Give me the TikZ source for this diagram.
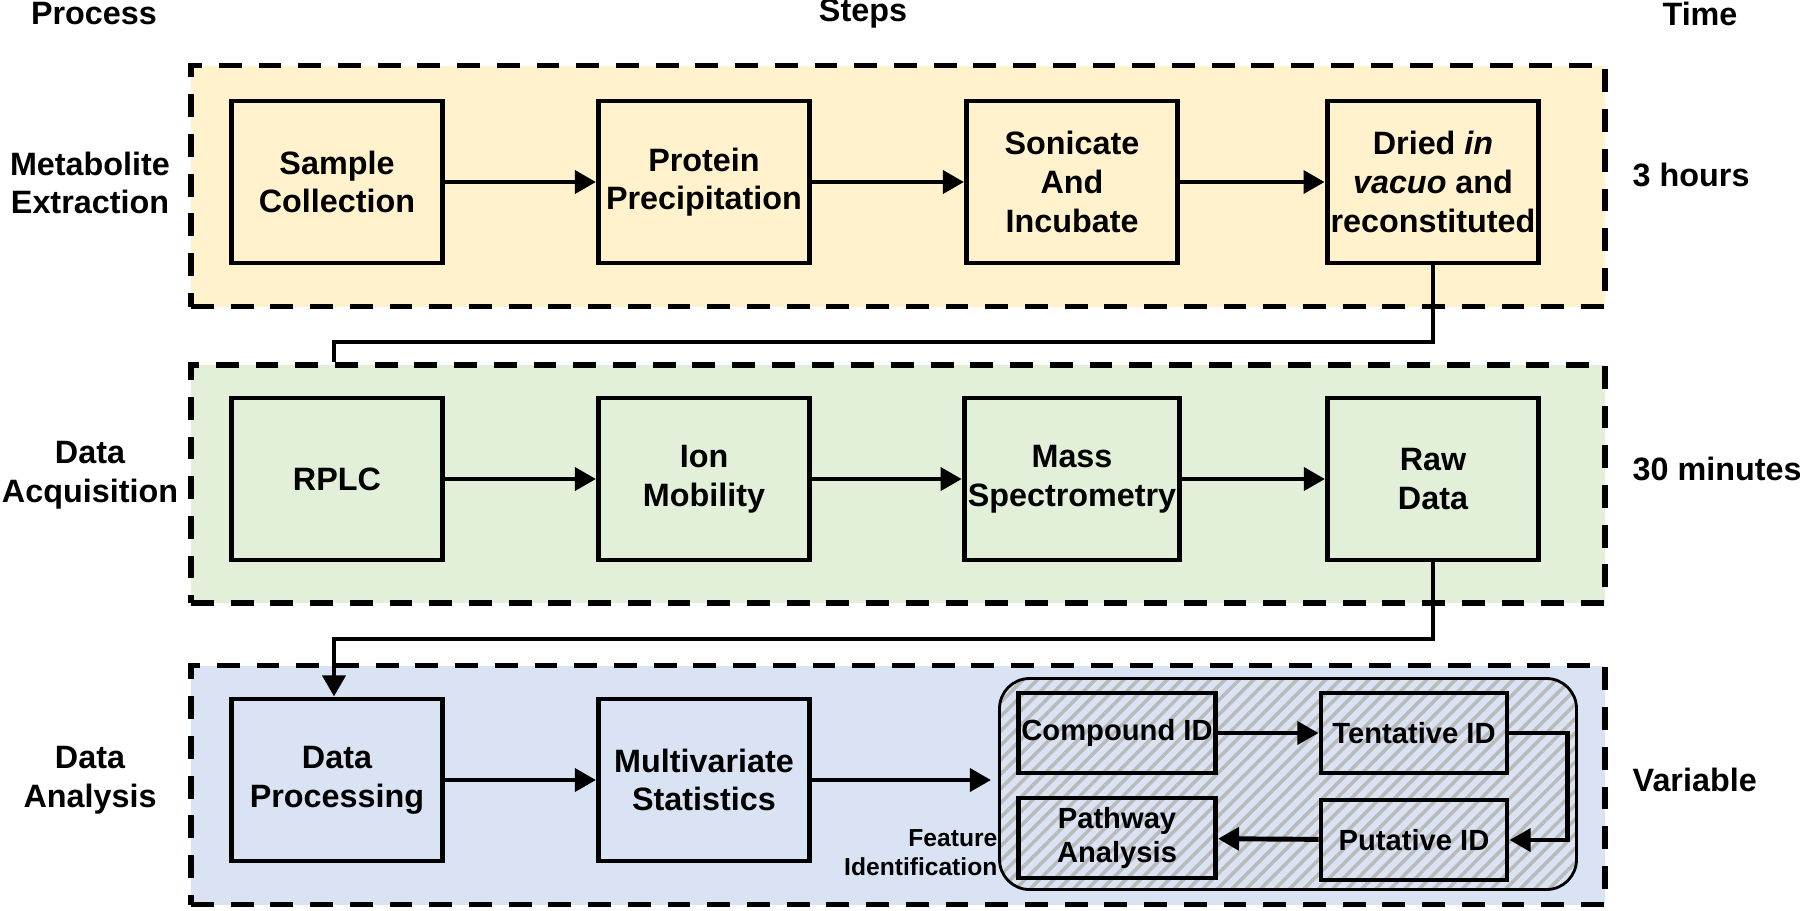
\documentclass[tikz,border=0pt]{standalone}
\usepackage{fontspec}
\setmainfont{Liberation Sans}
\usepackage{tikz}
\usetikzlibrary{arrows.meta}
\usetikzlibrary{patterns.meta}

\definecolor{extractfill}{HTML}{FFF2CC}
\definecolor{acquirefill}{HTML}{E2F0D9}
\definecolor{analysefill}{HTML}{DAE3F3}
\definecolor{hatchgray}{HTML}{BABABA}

\begin{document}
\begin{tikzpicture}[x=0.1mm, y=-0.1mm,
    every node/.style={font=\fontsize{9.2}{11}\selectfont\bfseries},
    band/.style={draw, line width=1.5pt, dash pattern=on 6.5pt off 4.8pt, minimum width=141.4mm, inner sep=0pt},
    stepbox/.style={draw, line width=1.4pt, minimum width=21.1mm, minimum height=16.2mm, align=center, inner sep=1pt},
    idbox/.style={draw, line width=1.4pt, minimum height=8mm, align=center, inner sep=0pt, font=\fontsize{8.3}{9.6}\selectfont\bfseries},
    rowname/.style={align=center, inner sep=0pt},
    timename/.style={anchor=west, inner sep=0pt},
    flow/.style={line width=1.4pt, -{Triangle[length=6pt,width=6.4pt]}},
    link/.style={line width=1.4pt}]
        \useasboundingbox (0,0) rectangle (1800,910);

        % Bands
        \node[band, fill=extractfill, minimum height=24.1mm] (extract) at (898,186) {};
        \node[band, fill=acquirefill, minimum height=23.8mm] (acquire) at (898,484) {};
        \node[band, fill=analysefill, minimum height=23.9mm] (analyse) at (898,785) {};

        % Headings
        \node[inner sep=0pt] (process) at (94,14) {Process};
        \node[inner sep=0pt] (steps) at (863,14) {Steps};
        \node[inner sep=0pt] (time) at (1700,14) {Time};

        \node[rowname] (metlab) at (90,183) {Metabolite\\Extraction};
        \node[rowname] (acqlab) at (90,475) {Data\\Acquisition};
        \node[rowname] (analab) at (90,780) {Data\\Analysis};

        \node[timename] (hours) at (1632,175) {3 hours};
        \node[timename] (minutes) at (1632,469) {30 minutes};
        \node[timename] (variable) at (1632,780) {Variable};

        % Steps
        \node[stepbox, fill=extractfill] (sample) at (337,182) {Sample\\Collection};
        \node[stepbox, fill=extractfill] (protein) at (704,182) {Protein\\Precipitation};
        \node[stepbox, fill=extractfill] (sonicate) at (1072,182) {Sonicate\\And\\Incubate};
        \node[stepbox, fill=extractfill] (dried) at (1433,182) {Dried \textit{in}\\\textit{vacuo} and\\reconstituted};

        \node[stepbox, fill=acquirefill] (rplc) at (337,479) {RPLC};
        \node[stepbox, fill=acquirefill] (ion) at (704,479) {Ion\\Mobility};
        \node[stepbox, fill=acquirefill] (mass) at (1072,479) {Mass\\Spectrometry};
        \node[stepbox, fill=acquirefill] (raw) at (1433,479) {Raw\\Data};

        \node[stepbox, fill=analysefill] (dataproc) at (337,780) {Data\\Processing};
        \node[stepbox, fill=analysefill] (multi) at (704,780) {Multivariate\\Statistics};

        % Feature identification
        \node[rounded corners=3mm, preaction={fill=analysefill},
              preaction={pattern={Lines[angle=45,distance=2.9pt,line width=1pt]}, pattern color=hatchgray},
              draw, line width=0.8pt, minimum width=57.7mm, minimum height=21.1mm] (feature) at (1288,784) {};
        \node[anchor=east, align=right, inner sep=0pt, font=\fontsize{7}{8.3}\selectfont\bfseries] (featlab) at (998,853) {Feature\\Identification};

        \node[idbox, minimum width=19.7mm] (compound) at (1117,733) {Compound ID};
        \node[idbox, minimum width=18.6mm] (tentative) at (1414,733) {Tentative ID};
        \node[idbox, minimum width=19.7mm] (pathway) at (1117,838) {Pathway\\Analysis};
        \node[idbox, minimum width=18.6mm] (putative) at (1414,840) {Putative ID};

        % Lines
        \draw[flow] (sample) -- (protein);
        \draw[flow] (protein) -- (sonicate);
        \draw[flow] (sonicate) -- (dried);
        \coordinate (drop1) at (334,342);
        \draw[link] (dried.south) |- (drop1) -- (drop1 |- acquire.north);

        \draw[flow] (rplc) -- (ion);
        \draw[flow] (ion) -- (mass);
        \draw[flow] (mass) -- (raw);
        \coordinate (drop2) at (334,639);
        \draw[flow] (raw.south) |- (drop2) -- (drop2 |- dataproc.north);

        \draw[flow] (dataproc) -- (multi);
        \draw[flow, shorten >=2pt] (multi) -- (multi -| feature.west);
        \draw[flow] (compound) -- (tentative);
        \draw[flow] (tentative.east) -- ++(58,0) |- (putative.east);
        \draw[flow] (putative) -- (pathway);
    \end{tikzpicture}
\end{document}
